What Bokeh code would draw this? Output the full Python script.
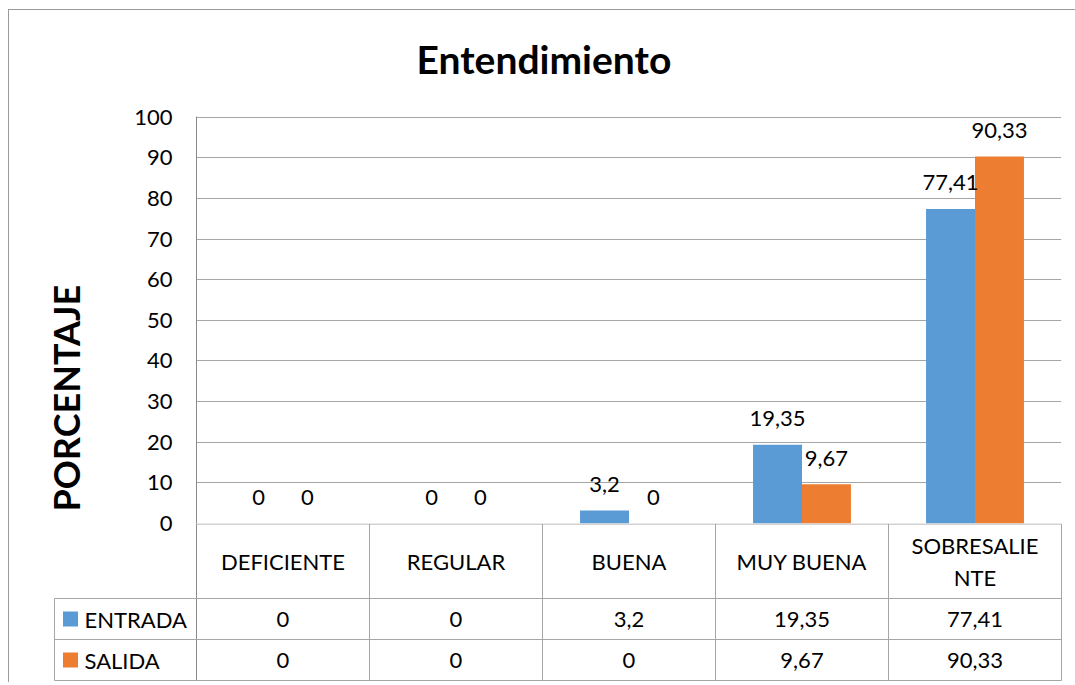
from bokeh.plotting import figure
from bokeh.models import Range1d, FactorRange, Title, ColumnDataSource, FixedTicker
from bokeh.transform import dodge
from bokeh.layouts import column
from bokeh.embed import file_html
from bokeh.resources import INLINE
from bokeh.core.properties import value

# ---------------- data ----------------
categories = ["DEFICIENTE", "REGULAR", "BUENA", "MUY BUENA", "SOBRESALIENTE"]
category_labels = ["DEFICIENTE", "REGULAR", "BUENA", "MUY BUENA", "SOBRESALIE\nNTE"]
entrada = [0, 0, 3.2, 19.35, 77.41]
salida = [0, 0, 0, 9.67, 90.33]
series_names = ["ENTRADA", "SALIDA"]
y_ticks = [0, 10, 20, 30, 40, 50, 60, 70, 80, 90, 100]
title_text = "Entendimiento"
y_label_text = "PORCENTAJE"

# ---------------- style ----------------
FONT = "Lato"
BLUE = "#5B9BD5"
ORANGE = "#ED7D31"
GRID = "#a6a6a6"
AXIS = "#8a8a8a"
TXT = "#000000"
BORDER = "#9a9a9a"
BAR_W = 0.283


def fmt(v):
    return ("%g" % v).replace(".", ",")


src = ColumnDataSource(dict(
    cat=categories,
    entrada=entrada,
    salida=salida,
    entrada_lbl=[fmt(v) for v in entrada],
    salida_lbl=[fmt(v) for v in salida],
))

# ---------------- chart ----------------
p = figure(width=1075, height=537,
           x_range=FactorRange(*categories), y_range=Range1d(0, 100.15),
           output_backend="svg", toolbar_location=None,
           x_axis_location=None,
           min_border_left=196, min_border_right=14,
           min_border_top=116, min_border_bottom=14)
p.frame_align = False
p.outline_line_color = None
p.border_fill_color = None
p.background_fill_color = None
p.xgrid.grid_line_color = None
p.ygrid.grid_line_color = GRID
p.ygrid.ticker = FixedTicker(ticks=y_ticks)
p.yaxis.ticker = FixedTicker(ticks=y_ticks)
p.yaxis.axis_line_color = AXIS
p.yaxis.major_tick_line_color = None
p.yaxis.major_tick_out = 0
p.yaxis.major_tick_in = 0
p.yaxis.minor_tick_line_color = None
p.yaxis.minor_tick_out = 0
p.yaxis.major_label_text_font = FONT
p.yaxis.major_label_text_font_size = "22px"
p.yaxis.major_label_text_color = TXT
p.yaxis.major_label_standoff = 24

p.title = Title(text=title_text, align="left", offset=220, standoff=66,
                vertical_align="top",
                text_font=FONT, text_font_size="39px", text_font_style="bold",
                text_color=TXT)
p.add_layout(Title(text=y_label_text, align="left", offset=12, standoff=84,
                   vertical_align="top",
                   text_font=FONT, text_font_size="36px", text_font_style="bold",
                   text_color=TXT), "left")

p.vbar(x=dodge("cat", -BAR_W / 2, range=p.x_range), top="entrada", width=BAR_W,
       source=src, fill_color=BLUE, line_color=None)
p.vbar(x=dodge("cat", BAR_W / 2, range=p.x_range), top="salida", width=BAR_W,
       source=src, fill_color=ORANGE, line_color=None)

for col, off in (("entrada", -BAR_W / 2), ("salida", BAR_W / 2)):
    p.text(x=dodge("cat", off, range=p.x_range), y=col, text=col + "_lbl", source=src,
           text_align="center", text_baseline="middle", y_offset=-26,
           text_font=value(FONT), text_font_size="22px", text_color=TXT)

# ---------------- data table ----------------
PX = 173.0  # pixels per category
n = len(categories)
legend_left = -142 / PX
t = figure(width=1075, height=159,
           x_range=Range1d(-144 / PX, 868 / PX), y_range=Range1d(0, 159),
           output_backend="svg", toolbar_location=None,
           x_axis_location=None, y_axis_location=None,
           min_border_left=52, min_border_right=11,
           min_border_top=0, min_border_bottom=0,
           styles={"margin-top": "-14px"})
t.frame_align = False
t.outline_line_color = None
t.border_fill_color = None
t.background_fill_color = None
t.grid.grid_line_color = None

row_tops = [158.5, 84, 43, 2]  # header top, row1 top, row2 top, bottom
vx0 = [float(i) for i in range(1, n + 1)] + [legend_left]
vy0 = [row_tops[3]] * n + [row_tops[3]]
vy1 = [row_tops[0]] * n + [row_tops[1]]
t.segment(x0=vx0, y0=vy0, x1=vx0, y1=vy1, line_color=GRID, line_width=1)
t.segment(x0=[0.0], y0=[159], x1=[0.0], y1=[row_tops[3]], line_color=AXIS, line_width=1)
hy = [row_tops[0], row_tops[1], row_tops[2], row_tops[3]]
hx0 = [0.0, legend_left, legend_left, legend_left]
hx1 = [float(n)] * 4
t.segment(x0=hx0, y0=hy, x1=hx1, y1=hy, line_color=GRID, line_width=1)

centers = [i + 0.5 for i in range(n)]
header_y = (row_tops[0] + row_tops[1]) / 2
row1_y = (row_tops[1] + row_tops[2]) / 2
row2_y = (row_tops[2] + row_tops[3]) / 2

t.text(x=centers, y=[header_y] * n, text=category_labels,
       text_align="center", text_baseline="middle", text_line_height=1.2,
       text_font=value(FONT), text_font_size="22px", text_color=TXT)
t.text(x=centers, y=[row1_y] * n, text=[fmt(v) for v in entrada],
       text_align="center", text_baseline="middle",
       text_font=value(FONT), text_font_size="22px", text_color=TXT)
t.text(x=centers, y=[row2_y] * n, text=[fmt(v) for v in salida],
       text_align="center", text_baseline="middle",
       text_font=value(FONT), text_font_size="22px", text_color=TXT)

key_x = (70 - 196) / PX
name_x = (84 - 196) / PX
t.scatter(x=[key_x, key_x], y=[row1_y, row2_y], marker="square", size=15,
          fill_color=[BLUE, ORANGE], line_color=None)
t.text(x=[name_x, name_x], y=[row1_y, row2_y], text=series_names,
       text_align="left", text_baseline="middle",
       text_font=value(FONT), text_font_size="22px", text_color=TXT)

frame_lines = (f"linear-gradient({BORDER}, {BORDER}) 8px 9px / 1px calc(100% - 9px) no-repeat, "
               f"linear-gradient({BORDER}, {BORDER}) 8px 9px / calc(100% - 8px) 1px no-repeat")
layout = column(p, t, spacing=0, styles={"background": frame_lines})

with open("out.html", "w") as f:
    f.write(file_html(layout, INLINE))
